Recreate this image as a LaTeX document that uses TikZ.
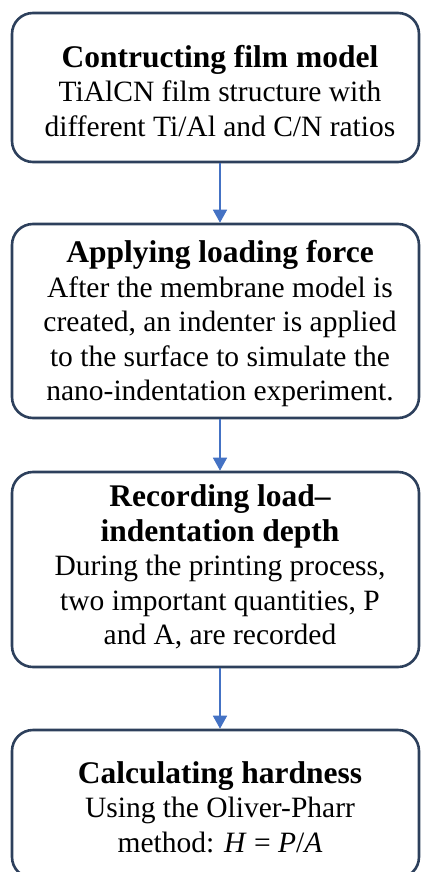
\documentclass[tikz,border=0pt]{standalone}
\usepackage{fontspec}
\setmainfont{Liberation Serif}
\usetikzlibrary{arrows.meta}
\definecolor{boxc}{RGB}{45,64,92}
\definecolor{arrc}{RGB}{68,114,196}
\newcommand\bxbody{\fontsize{29.5}{34.5}\selectfont}
\newcommand\bxtitle{\fontsize{31.5}{34.5}\selectfont\bfseries}
\begin{document}
\begin{tikzpicture}[x=1pt,y=-1pt,
  box/.style={draw=boxc, line width=2.6pt, rounded corners=21pt, minimum width=407pt, inner sep=0pt},
  txt/.style={align=center, inner sep=0pt, font=\bxbody},
  arr/.style={draw=arrc, line width=1.6pt, -{Triangle[width=14pt,length=13pt]}}]
\useasboundingbox (0,0) rectangle (420,872);
\node[box, minimum height=149pt] (b1) at (215.5,87.5) {};
\node[box, minimum height=194pt] (b2) at (215.5,321) {};
\node[box, minimum height=195pt] (b3) at (215.5,569.5) {};
\node[box, minimum height=148pt] (b4) at (215.5,804) {};
\node[txt] (t1) at (220,91) {{\bxtitle Contructing film model}\\TiAlCN film structure with\\different Ti/Al and C/N ratios};
\node[txt] (t2) at (220,324) {{\bxtitle Applying loading force}\\After the membrane model is\\created, an indenter is applied\\to the surface to simulate the\\nano-indentation experiment.};
\node[txt] (t3) at (220,567) {{\bxtitle Recording load–}\\{\bxtitle indentation depth}\\During the printing process,\\two important quantities, P\\and A, are recorded};
\node[txt] (t4) at (220,807) {{\bxtitle Calculating hardness}\\Using the Oliver-Pharr\\method: \textit{H} = \textit{P}/\textit{A}};
\coordinate (ax) at (220,0);
\draw[arr] (b1.south -| ax) -- (b2.north -| ax);
\draw[arr] (b2.south -| ax) -- (b3.north -| ax);
\draw[arr] (b3.south -| ax) -- (b4.north -| ax);
\end{tikzpicture}
\end{document}
